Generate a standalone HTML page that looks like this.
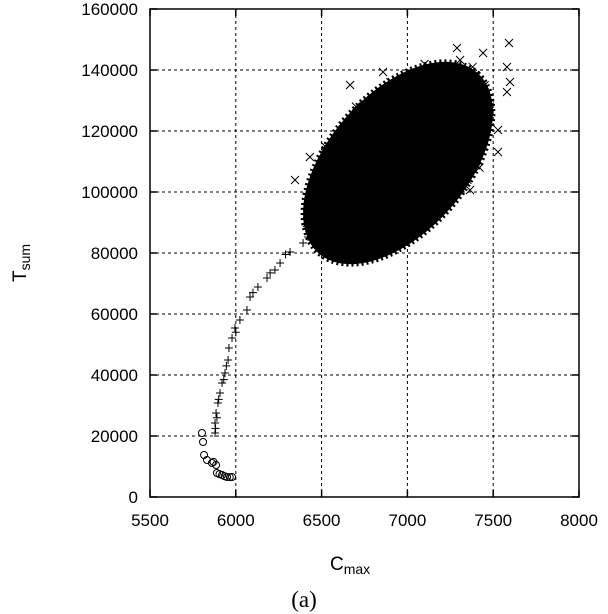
<!DOCTYPE html>
<html><head><meta charset="utf-8"><style>
body{margin:0;background:#fff}
svg{display:block;font-family:"Liberation Sans",sans-serif}
</style></head><body>
<svg id="c" width="608" height="614" viewBox="0 0 608 614"></svg>
<script>
const xTicks=[5500,6000,6500,7000,7500,8000];
const yTicks=[0,20000,40000,60000,80000,100000,120000,140000,160000];
const plusX=[6473,6421,6392,6316,6258,6228,6182,6129,6083,6065,6024,5995,5978,5960,5955,5937,5920,5908,5896,5885,5879,5879,5882,5890,5900,5930,5945,6000,6100,6200,6290];
const plusY=[88525,85246,83279,80328,76721,74426,71803,68852,65574,61311,58033,55410,52131,48852,44918,40656,37377,34098,30820,27541,24262,20984,22500,26000,32000,38500,43000,54000,67000,73500,79500];
const circX=[5803,5809,5815,5832,5861,5885,5890,5920,5949,5978,5870,5905,5935,5965];
const circY=[20984,18033,13770,12131,11148,10492,7869,7213,6557,6557,11500,7500,6800,6500];
const crossX=[7592,7580,7598,7580,7528,7528,6648,6887,6345,6858,7289,7441,6432,6415,7307,7132,6491,7365,6666,6550,6600,6700,7450,7480,7400,7350,7200,7050,6500,6460,6750,7000,6480,6520,6700,6900,7100,7380,7460,7420,6560,6620,6800,7150];
const crossY=[148852,140984,136066,132787,113115,120328,78033,81967,103934,139344,147213,145574,111475,89836,143279,94098,84262,100656,135082,90000,86000,84000,135000,128000,110000,104000,97000,90000,100000,95000,128000,137000,106000,115000,128000,136000,142000,141000,122000,108000,84500,82000,83000,91000];
// blob: center, major-axis end, minor-axis end (data units)
const blobC=[6945,109508];
const blobA=[7410,139000];
const blobB=[7245,94300];

const L=150,R=579,T=9,B=497;
const sx=v=>L+(v-5500)/2500*(R-L);
const sy=v=>B-(v/160000)*(B-T);
const svg=document.getElementById('c');
const NS='http://www.w3.org/2000/svg';
function mk(tag,attrs,parent){const e=document.createElementNS(NS,tag);for(const k in attrs)e.setAttribute(k,attrs[k]);(parent||svg).appendChild(e);return e;}

const grid=mk('g',{stroke:'#000','stroke-width':1,'stroke-dasharray':'3,3'});


xTicks.slice(1,-1).forEach(v=>{mk('line',{x1:sx(v),x2:sx(v),y1:T,y2:B},grid);});
yTicks.slice(1,-1).forEach(v=>{mk('line',{x1:L,x2:R,y1:sy(v),y2:sy(v)},grid);});

// blob
const c=[sx(blobC[0]),sy(blobC[1])],a=[sx(blobA[0])-c[0],sy(blobA[1])-c[1]],b=[sx(blobB[0])-c[0],sy(blobB[1])-c[1]];
let pts=[];for(let i=0;i<72;i++){const t=i/72*2*Math.PI;pts.push((c[0]+Math.cos(t)*a[0]+Math.sin(t)*b[0]).toFixed(1)+','+(c[1]+Math.cos(t)*a[1]+Math.sin(t)*b[1]).toFixed(1));}
const blob=mk('polygon',{points:pts.join(' '),fill:'#000',stroke:'#000','stroke-width':5,'stroke-dasharray':'2,3','stroke-linejoin':'round'});



const marks=mk('g',{stroke:'#000','stroke-width':1,fill:'none'});


crossX.forEach((v,i)=>{const x=sx(v),y=sy(crossY[i]);const p=mk('path',{d:`M${x-4},${y-4}L${x+4},${y+4}M${x-4},${y+4}L${x+4},${y-4}`},marks);

});
plusX.forEach((v,i)=>{const x=sx(v),y=sy(plusY[i]);const p=mk('path',{d:`M${x-4},${y}L${x+4},${y}M${x},${y-4}L${x},${y+4}`},marks);

});
circX.forEach((v,i)=>{const p=mk('circle',{cx:sx(v),cy:sy(circY[i]),r:3.5},marks);

});

const frame=mk('rect',{x:L,y:T,width:R-L,height:B-T,fill:'none',stroke:'#000','stroke-width':1.5});


const tk=mk('g',{stroke:'#000','stroke-width':1.5});
xTicks.forEach(v=>{mk('line',{x1:sx(v),x2:sx(v),y1:B,y2:B-7},tk);mk('line',{x1:sx(v),x2:sx(v),y1:T,y2:T+7},tk);});
yTicks.forEach(v=>{mk('line',{x1:L,x2:L+7,y1:sy(v),y2:sy(v)},tk);mk('line',{x1:R,x2:R-7,y1:sy(v),y2:sy(v)},tk);});

xTicks.forEach(v=>{const t=mk('text',{x:sx(v),y:526,'text-anchor':'middle','font-size':17});t.textContent=v;

});
yTicks.forEach(v=>{const t=mk('text',{x:138,y:sy(v)+6,'text-anchor':'end','font-size':17});t.textContent=v;

});
</script>
<svg style="position:absolute;left:0;top:0" width="608" height="614">
<text x="330" y="570" font-size="19" font-family="Liberation Sans,sans-serif">C<tspan font-size="14" dy="4">max</tspan></text>
<text transform="translate(26,282) rotate(-90)" font-size="19" font-family="Liberation Sans,sans-serif">T<tspan font-size="14" dy="4">sum</tspan></text>
<text x="304" y="607" text-anchor="middle" font-size="23" font-family="Liberation Serif,serif">(a)</text>
</svg>
</body></html>
